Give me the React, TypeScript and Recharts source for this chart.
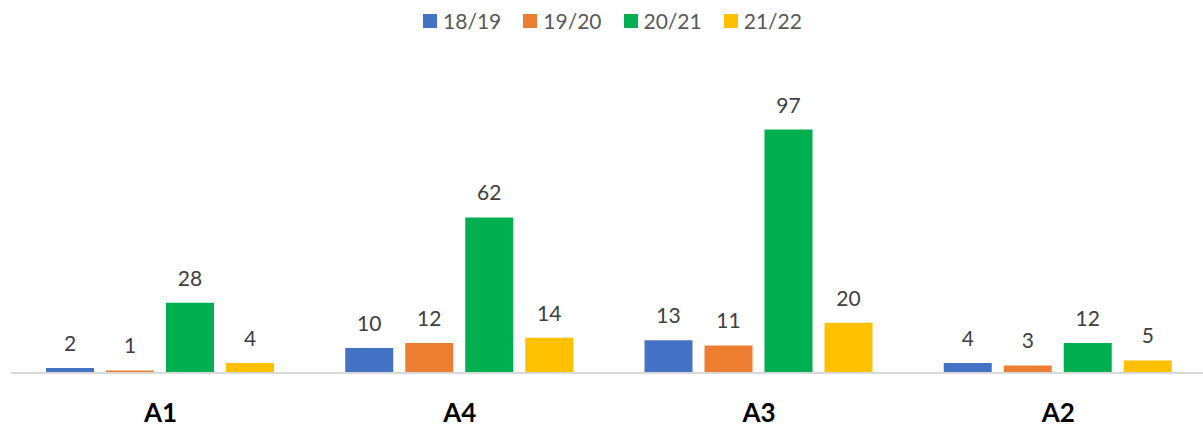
import { BarChart, Bar, XAxis, YAxis, LabelList } from 'recharts'

// ── Data ──────────────────────────────────────────────────────────────────────
const CATEGORIES = ['A1', 'A4', 'A3', 'A2']
const S_1819 = [2, 10, 13, 4]
const S_1920 = [1, 12, 11, 3]
const S_2021 = [28, 62, 97, 12]
const S_2122 = [4, 14, 20, 5]

const SERIES = [
  { key: 's1819', name: '18/19', values: S_1819, color: '#4472C4' },
  { key: 's1920', name: '19/20', values: S_1920, color: '#ED7D31' },
  { key: 's2021', name: '20/21', values: S_2021, color: '#00B050' },
  { key: 's2122', name: '21/22', values: S_2122, color: '#FFC000' },
]

const rows = CATEGORIES.map((name, i) => {
  const row: Record<string, string | number> = { name }
  SERIES.forEach((s) => { row[s.key] = s.values[i] })
  return row
})

const FONT = 'Lato, "Open Sans", "Liberation Sans", sans-serif'

// ── Category tick ─────────────────────────────────────────────────────────────
// eslint-disable-next-line @typescript-eslint/no-explicit-any
function CategoryTick(props: any) {
  const { x, y, payload } = props
  return (
    <text x={x} y={y} dy={41} textAnchor="middle" fill="#000" fontFamily={FONT} fontWeight={700} fontSize={26}>
      {payload.value}
    </text>
  )
}

// ── Legend ────────────────────────────────────────────────────────────────────
function TopLegend() {
  return (
    <div
      style={{
        position: 'absolute', top: 10, left: 11, width: 1203,
        display: 'flex', justifyContent: 'center', alignItems: 'center', gap: 22,
        fontFamily: FONT, fontSize: 21, lineHeight: '22px', color: '#595959',
      }}
    >
      {SERIES.map((s) => (
        <div key={s.key} style={{ display: 'flex', alignItems: 'center', gap: 6 }}>
          <span style={{ width: 14, height: 14, background: s.color, display: 'inline-block' }} />
          <span>{s.name}</span>
        </div>
      ))}
    </div>
  )
}

export default function App() {
  return (
    <div style={{ position: 'absolute', left: 0, top: 0, width: 1203, height: 428, overflow: 'hidden', background: '#fff' }}>
      <BarChart
        width={1208}
        height={428}
        data={rows}
        margin={{ top: 122, right: 0, left: 11, bottom: 0 }}
        barCategoryGap={35}
        barGap={12}
      >
        <XAxis
          dataKey="name"
          height={55}
          tickLine={false}
          axisLine={{ stroke: '#D9D9D9', strokeWidth: 2 }}
          tick={<CategoryTick />}
          interval={0}
        />
        <YAxis hide domain={[0, 100]} />
        {SERIES.map((s) => (
          <Bar key={s.key} dataKey={s.key} name={s.name} fill={s.color} isAnimationActive={false}>
            <LabelList
              dataKey={s.key}
              position="top"
              offset={17}
              fill="#404040"
              fontSize={21}
              fontFamily={FONT}
            />
          </Bar>
        ))}
      </BarChart>
      <TopLegend />
    </div>
  )
}
